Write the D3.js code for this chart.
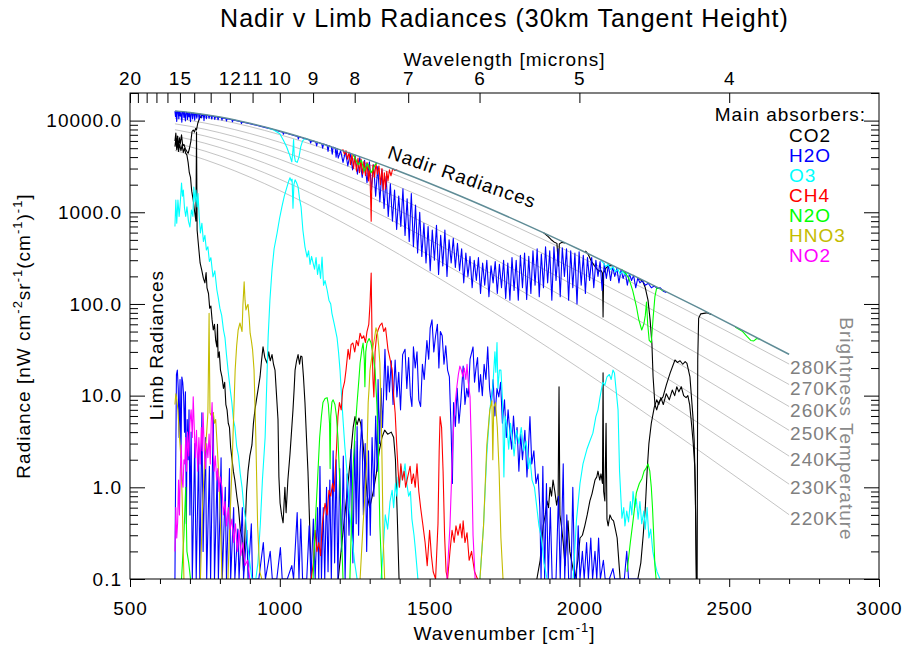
<!DOCTYPE html>
<html lang="en">
<head>
<meta charset="utf-8">
<title>Nadir v Limb Radiances (30km Tangent Height)</title>
<script src="https://d3js.org/d3.v7.min.js"></script>
<style>
  body { margin: 0; background: #fff; }
  svg text { font-family: "Liberation Sans", Arial, Helvetica, sans-serif; letter-spacing: 1px; }
</style>
</head>
<body>
<div id="chart"></div>
<script>
// ---------- data ----------
// brightness temperature curves, sampled at these wavenumbers [cm-1]
var btWavenumbers = [650, 700, 800, 900, 1000, 1200, 1400, 1600, 1800, 2000, 2200, 2400, 2700];
var btLabels = ["280K", "270K", "260K", "250K", "240K", "230K", "220K"];
var bt280 = [12017, 11511, 10163, 8599, 7028, 4329, 2456, 1312, 668.3, 328.0, 156.2, 72.6, 22.1];
var bt270 = [10572, 10040, 8708, 7234, 5804, 3443, 1882, 967.2, 474.3, 224.1, 102.7, 45.95, 13.22];
var bt260 = [9216, 8670, 7375, 6007, 4724, 2692, 1412, 696.6, 327.9, 148.7, 65.44, 28.09, 7.604];
var bt250 = [7951, 7404, 6166, 4915, 3783, 2063, 1036, 488.9, 220.2, 95.52, 40.22, 16.51, 4.183];
var bt240 = [6780, 6242, 5081, 3957, 2975, 1547, 740.2, 333.1, 143.0, 59.13, 23.73, 9.288, 2.189];
var bt230 = [5705, 5187, 4118, 3127, 2291, 1131, 513.9, 219.5, 89.43, 35.11, 13.37, 4.969, 1.083];
var bt220 = [4729, 4241, 3276, 2419, 1723, 804.1, 345.1, 139.3, 53.61, 19.88, 7.154, 2.511, 0.5026];
// nadir radiance where nothing absorbs (top envelope)
var nadirTop = [12767, 12283, 10938, 9333, 7696, 4825, 2787, 1515, 785.8, 392.7, 190.4, 90.07, 28.20];

// nadir spectra [wavenumber, radiance]; null = gap
var nadirCO2 = [[650,6000],[653,7300],[656,5400],[659,6800],[662,5000],[665,6500],[668,5600],[672,7000],[676,5300],[680,5500],[685,4900],[690,4600],[694,4400],[698,4900],[703,5900],[707,7600],[711,7900],[715,7500],[719,8200],[722,7900],[726,9300],[732,10600],[740,11400],[750,11500],
  null,[1880,600],[1895,545],[1905,505],[1915,475],[1925,458],[1930,260],[1933,452],[1942,470],[1952,462],
  null,[2020,380],[2030,345],[2040,292],[2050,262],[2058,242],[2065,228],[2072,232],[2077,218],[2079,72],[2081,218],[2088,245],[2098,262],[2110,262],
  null,[2200,188],[2212,175],[2220,150],[2229,110],[2236,67],[2242,37],[2246,16],[2252,8],[2258,7],[2265,8.5],[2279,9.7],[2290,13],[2303,17.7],[2319,24.5],[2327,23],[2336,24],[2345,22],[2353,23.5],[2359,22.5],[2369,16],[2379,5.9],[2383,3.3],[2387,1],[2390,0.1],[2393,0.1],[2395,25],[2398,70],[2405,78],[2425,80],[2440,77]];
var nadirH2O = [[650,12640],[652,11000],[654,12600],[656,9800],[658,12570],[661,12540],[663,10500],[665,12490],[668,11200],[670,12440],[673,9600],[675,12400],[678,12370],[680,10800],[682,12330],[685,9900],[687,12280],[690,12250],[692,10300],[694,12220],[697,11000],[699,12170],[702,9700],[704,12110],[707,12070],[709,10400],[711,12030],[714,11990],[716,10100],[718,11950],[721,11900],[723,10600],[725,11850],[729,11800],[731,10200],[733,11760],[737,11700],[739,10700],[741,11650],[745,11600],[747,10000],[749,11560],[753,11490],[755,10500],[757,11450],[762,11360],[764,10600],[766,11330],[771,11240],[773,10400],[775,11180],[781,11100],[783,10300],[785,11040],[792,10940],[794,10200],[796,10880],[805,10750],[807,10100],[809,10700],[820,10520],[822,9900],[824,10490],[840,10210],[842,9700],[844,10180],[870,9730],[872,9300],[874,9690],[900,9240],[925,8850],[950,8430],[975,8030],[1000,7620],[1010,7470],[1012,7100],[1014,7420],[1050,6850],[1060,6700],[1062,6300],[1064,6650],[1090,6270],[1100,6120],[1103,5700],[1106,6050],[1120,5860],[1123,5300],[1126,5800],[1140,5600],[1143,5000],[1146,5550],[1158,5380],[1161,4600],[1164,5330],[1172,5200],[1175,4300],[1178,5130],[1185,5030],[1188,4000],[1191,4960],
  [1195,3900],[1203,4700],[1211,3500],[1219,4600],[1227,3200],[1235,4400],[1243,2900],[1251,4200],[1259,2600],[1267,3950],[1275,2400],[1283,3700],[1291,2100],[1299,3550],[1306,1750],[1313,3300],[1320,1500],[1327,3150],[1334,1300],[1341,2900],[1348,1100],[1355,2450],[1362,900],[1369,2050],[1376,800],[1383,1750],
  [1390,650],[1397,1500],[1404,700],[1411,1800],[1418,560],[1425,1400],[1432,480],[1439,1600],[1446,420],[1453,1200],[1460,360],[1467,1000],[1474,330],[1481,760],[1488,280],[1495,700],[1502,230],[1509,640],[1516,300],[1523,720],[1530,210],[1537,560],[1544,260],[1551,640],[1558,200],[1565,500],[1572,280],[1579,520],[1586,250],[1593,460],[1600,230],[1607,400],[1614,170],[1621,360],[1628,200],[1635,330],[1642,150],[1649,300],[1656,180],[1663,320],[1670,130],[1677,280],[1684,160],[1691,300],[1698,120],[1705,260],[1712,170],[1719,290],[1726,130],[1733,270],[1740,150],[1747,300],[1754,115],[1761,280],[1768,110],[1775,320],[1782,140],[1789,300],[1796,110],[1803,340],[1810,150],[1817,360],[1824,112],[1831,330],[1838,130],[1845,380],[1852,160],[1859,400],[1866,120],[1873,350],[1880,150],[1887,420],[1894,170],[1901,380],[1908,110],[1915,420],[1922,180],[1929,400],[1936,120],[1943,410],[1950,200],[1957,400],[1964,110],[1971,380],[1978,150],[1985,360],[1992,100],[1999,370],[2006,160],[2013,340],[2020,130],[2027,320],[2034,180],[2041,320],[2048,150],[2055,300],[2062,200],[2069,290],[2076,140],[2083,275],[2090,190],[2097,270],[2104,180],[2111,255],[2118,200],[2125,245],[2132,170],[2139,235],[2146,190],[2153,225],[2160,160],[2167,215],[2174,180],[2181,205],[2188,150],[2195,192],[2202,170],[2210,180],[2220,160],[2230,168],[2240,150],[2250,157],[2260,148],[2270,150],[2280,138],[2290,133]];
var nadirO3 = [[960,8300],[980,7900],[1000,7200],[1012,6100],[1023,5150],[1033,4200],[1040,3550],[1044,4800],[1046,6200],[1048,4200],[1052,3600],[1058,3500],[1064,4000],[1070,5200],[1076,6000],[1085,6400],[1100,6150],
  null,[2070,305],[2080,280],[2088,255],[2096,272],[2104,238],[2112,255],[2120,225],[2128,240],[2136,212],[2144,228],[2152,210],[2162,218],[2172,205]];
var nadirCH4 = [[1210,4870],[1216,4300],[1221,4700],[1226,3800],[1231,4500],[1236,3300],[1241,4300],[1246,3000],[1251,4100],[1256,2800],[1261,3900],[1266,2700],[1271,3800],[1276,2600],[1281,3600],[1286,2500],[1291,3500],[1296,2200],[1300,3300],[1303,1500],[1305,800],[1307,2000],[1311,3300],[1316,2400],[1321,3400],[1326,2600],[1331,3200],[1336,2000],[1341,3000],[1345,1750],[1349,2700],[1353,1800],[1357,2800],[1361,2200],[1366,2900],[1371,2500],[1377,3000],[1384,2850],[1392,2900]];
var nadirN2O = [[1244,4300],[1262,3300],[1272,3700],[1282,2800],[1292,3400],[1305,2700],[1318,3300],[1325,3450],
  null,[2140,240],[2155,215],[2165,190],[2178,140],[2190,95],[2198,68],[2208,52],[2215,60],[2220,75],[2224,105],[2228,60],[2233,40],[2240,38],[2246,70],[2252,120],[2258,150],[2266,148],[2280,138],
  null,[2520,56],[2545,50],[2560,44],[2572,40],[2582,39.5],[2592,42],[2605,41]];

// limb spectra at 30km tangent height
var limbCO2 = [[650,5200],[653,6300],[656,4800],[659,5900],[662,4600],[666,5500],[670,4700],[674,5400],[678,4500],[682,5000],[686,4400],[690,4200],[694,3500],[698,2700],[702,2400],[706,1700],[711,1360],[716,1000],[720,800],[722,7500],[724,640],[729,420],[734,280],[740,230],[745,190],[750,170],[754,220],[757,150],[762,130],[766,90],[770,95],[774,67],[778,52],[782,60],[786,40],[790,34],[792,60],[794,26],[798,30],[802,19],[807,16],[812,12],[816,14],[820,8],[824,7],[828,5],[832,4.5],[836,2.7],[840,2.1],[845,1.5],[850,1.2],[857,0.78],[862,0.6],[868,0.35],[874,0.28],[879,0.12],[884,0.34],[889,0.9],[894,1.5],[900,2.2],[907,2.9],[912,5],[917,7],[922,9],[928,12],[934,16],[939,24],[944,34],[950,26],[957,22.7],[963,30],[968,24],[974,28],[979,22],[984,19],[990,9],[994,5.5],[997,1.3],[1001,0.67],[1006,0.5],[1011,0.41],[1017,1.0],[1021,0.53],[1027,1.2],[1034,2.3],[1039,4],[1044,7],[1048,12],[1051,19],[1056,24],[1061,28],[1066,22],[1070,27],[1074,26.6],[1079,16],[1084,8.4],[1089,3.5],[1094,1.5],[1101,0.28],[1106,0.1],
  null,[1195,0.1],[1210,0.3],[1225,0.9],[1238,2.5],[1245,4.5],[1251,5.9],[1258,4.8],[1264,5.7],[1270,5],[1278,3],[1286,1.4],[1292,0.8],[1300,0.6],[1312,0.9],[1322,1.4],[1332,2.5],[1341,3.5],[1350,4.2],[1360,3.8],[1372,4.0],[1380,3.5],[1386,2],[1392,0.5],[1398,0.1],
  null,[1858,0.1],[1869,0.16],[1879,0.38],[1886,0.5],[1892,0.71],[1897,0.6],[1902,1.0],[1907,0.8],[1912,1.2],[1918,0.9],[1924,0.64],[1929,0.8],[1932,12.5],[1935,0.5],[1940,0.38],[1946,0.25],[1952,0.14],[1958,0.3],[1962,0.43],[1968,0.2],[1975,0.15],[1985,0.1],[1995,0.16],[2002,0.28],[2010,0.3],[2018,0.38],[2026,0.5],[2035,0.71],[2042,0.85],[2052,1.2],[2058,1.3],[2062,1.5],[2068,1.2],[2072,1.4],[2077,1.1],[2079,17.7],[2081,0.9],[2085,0.71],[2089,5],[2092,0.45],[2096,0.38],[2102,0.5],[2108,0.45],[2114,0.43],[2120,0.35],[2126,0.28],[2132,0.15],[2136,0.1],
  null,[2195,0.1],[2205,0.15],[2213,0.3],[2220,0.6],[2226,1.5],[2232,3.0],[2240,5],[2250,7.5],[2258,9],[2265,8],[2272,9.5],[2280,8],[2290,10.5],[2300,9],[2310,11.5],[2318,10],[2325,12.5],[2332,11],[2340,12.5],[2348,10],[2356,9.5],[2362,10],[2368,8],[2374,5],[2380,3],[2385,1.7],[2388,0.5],[2391,0.1]];
var limbH2O = [[650,0.1],[652,1.0],[655,17],[658,19],[661,12],[664,3.5],[667,15],[670,2.1],[673,16],[676,14],[679,10],[682,4],[685,11],[688,0.4],[691,5.5],[694,2],[697,7],
  [700,0.5],[704,4],[708,0.1],[716,3],[721,0.1],[729,2.5],[733,0.1],[740,6.5],[744,0.2],[752,3.5],[756,0.1],[765,1.7],[769,0.1],[778,6.5],[782,0.1],[791,1.5],[795,0.1],[804,2.1],[808,0.1],[818,1.0],[822,0.1],[832,1.6],[836,0.1],[846,0.6],[850,0.1],[860,0.35],[864,0.1],[875,0.6],[879,0.1],[890,0.34],[894,0.1],[905,0.4],[909,0.1],
  [930,0.1],[945,0.25],[952,0.1],[968,0.2],[975,0.1],[990,0.1],[1002,0.22],[1008,0.1],[1025,0.1],[1040,0.14],[1046,0.1],[1058,0.53],[1064,0.1],[1070,0.45],[1076,0.1],[1090,0.1],[1098,0.38],[1104,0.1],[1112,0.45],[1118,0.1],[1126,0.6],[1130,0.1],[1134,1.7],[1139,0.1],[1145,0.6],[1150,0.1],[1156,1.0],[1161,0.12],[1167,1.2],[1172,0.1],[1178,2.5],[1183,0.15],[1188,2.0],[1194,0.1],[1200,1.6],[1206,0.2],[1212,2.2],[1218,0.1],[1225,1.4],[1231,0.3],[1238,2.6],[1244,0.15],[1250,3.2],[1255,0.4],[1258,4.6],[1263,0.3],[1268,2.4],[1274,5.5],[1279,0.5],[1285,3.0],[1290,0.2],[1296,2.5],[1302,0.3],[1308,3.5],[1314,0.8],[1320,6],[1325,1.5],[1328,15],[1333,3],[1338,12],[1343,4.5],[1351,32],[1356,9],[1361,21],[1366,11],[1372,24],[1378,8],[1385,24.5],[1391,9.7],[1397,18],[1403,7],[1410,28],[1418,32],[1424,12],[1430,26],[1436,10],[1441,7.6],[1446,34],[1452,20],[1458,30],[1464,9],[1470,7.6],[1476,22],[1482,15],[1491,40],[1497,25],[1502,55],[1508,67],[1514,30],[1520,45],[1526,60],[1531,20],[1536,50],[1542,45],[1548,22],[1554,35],[1560,19],[1566,16],[1572,4],[1576,1.1],[1580,8.4],[1586,4.6],[1592,12],[1598,5],[1604,8.4],[1612,21],[1618,8],[1624,12],[1629,9.7],[1635,25],[1645,34],[1650,14],[1655,20],[1660,26],[1665,11],[1670,17],[1676,10],[1682,22],[1688,15],[1694,34],[1700,12],[1706,8],[1712,15],[1718,6],[1725,12],[1731,9.7],[1737,14],[1743,5],[1750,9],[1756,3.5],[1762,7],[1768,4],[1774,2.6],[1780,6],[1786,3],[1792,4.5],[1798,1.5],[1804,3.8],[1810,2],[1818,4.2],[1825,1.3],[1835,5.9],[1841,1.8],[1848,2.5],[1855,1.1],[1862,1.4],[1868,0.6],[1872,0.1],[1878,1.7],[1884,0.1],[1890,1.1],[1896,0.1],[1903,0.6],[1909,0.1],[1922,0.1],[1930,0.8],[1936,0.1],[1942,0.5],[1946,1.8],[1951,0.1],[1958,0.5],[1964,0.1],[1972,0.1],[1978,1.0],[1984,0.1],[1990,0.1],[1996,0.38],[2002,0.1],[2010,0.2],[2016,0.1],[2024,0.25],[2030,0.1],[2038,0.28],[2044,0.1],[2052,0.2],[2058,0.1],[2064,0.28],[2070,0.1],[2080,0.16],[2086,0.1],[2100,0.1],[2112,0.13],[2118,0.1],[2150,0.1],[2158,0.2],[2164,0.1],[2200,0.1]];
var limbO3 = [[650,700],[653,1360],[656,760],[660,1360],[664,900],[668,1300],[672,2085],[675,1500],[678,1750],[682,1100],[686,900],[690,1150],[695,800],[700,690],[705,1060],[710,900],[713,1890],[717,1300],[720,1750],[724,1143],[727,1600],[731,900],[735,594],[740,760],[745,480],[750,560],[755,388],[760,420],[765,290],[770,320],[777,197],[783,230],[790,142],[794,120],[800,90],[806,75],[812,52],[817,43],[822,28],[828,18],[834,12],[840,8.4],[845,5.5],[850,4.6],[856,2.8],[862,2.2],[868,1.4],[874,1.0],[880,0.6],[886,0.45],[892,0.25],[900,0.15],[907,0.1],
  [920,0.1],[927,0.15],[935,0.4],[942,1.2],[951,3.5],[956,12],[961,43],[967,110],[974,236],[981,400],[991,594],[999,850],[1007,1143],[1015,1500],[1024,1890],[1030,2200],[1034,2380],[1038,2200],[1041,2300],[1044,1110],[1047,2000],[1051,2260],[1056,2100],[1061,1890],[1066,1400],[1071,1143],[1077,640],[1084,420],[1091,325],[1096,380],[1101,270],[1106,330],[1111,280],[1116,240],[1121,320],[1126,210],[1131,270],[1136,190],[1141,325],[1146,160],[1151,180],[1158,142],[1164,110],[1170,100],[1174,79],[1182,60],[1191,43],[1196,30],[1201,19],[1206,10],[1211,5.5],[1217,2.8],[1224,1.5],[1232,0.6],[1241,0.28],[1250,0.15],[1258,0.1],
  null,[1338,0.1],[1345,0.2],[1352,0.5],[1360,0.35],[1368,0.7],[1375,0.93],[1380,0.6],[1386,1.1],[1391,0.8],[1395,1.3],[1400,1.0],[1405,1.7],[1410,1.2],[1418,1.8],[1424,1.1],[1430,0.8],[1436,0.9],[1441,0.45],[1448,0.3],[1452,0.22],[1461,0.1],
  null,[1668,0.1],[1680,0.38],[1691,2.3],[1701,7.0],[1711,12.5],[1718,30],[1721,18],[1725,38],[1728,12],[1733,19],[1738,19],[1743,9.7],[1748,1.3],[1752,6],[1758,4.6],[1764,2.6],[1770,5],[1776,3.5],[1782,2.2],[1790,4.2],[1798,3],[1806,4.5],[1814,2.5],[1822,3.2],[1830,1.6],[1835,2.1],[1842,1.2],[1850,1.0],[1858,0.6],[1865,0.38],[1873,0.28],[1882,0.15],[1892,0.1],
  null,[1979,0.1],[1990,0.43],[2002,1.1],[2012,1.8],[2025,2.6],[2035,3.2],[2045,3.9],[2055,5.9],[2062,7],[2069,9.7],[2078,14],[2085,13],[2092,16],[2100,17],[2106,15],[2112,19],[2117,17.7],[2122,12],[2129,7],[2134,1.5],[2142,0.46],[2148,0.6],[2152,0.38],[2158,0.55],[2164,0.42],[2170,0.7],[2175,0.5],[2179,0.9],[2185,0.6],[2190,0.75],[2196,0.45],[2202,0.7],[2208,0.4],[2215,0.55],[2220,0.35],[2226,0.6],[2232,0.28],[2238,0.35],[2245,0.2],[2252,0.15],[2259,0.12],[2269,0.1]];
var limbCH4 = [[1105,0.1],[1112,0.15],[1118,0.34],[1124,0.2],[1130,0.25],[1136,0.18],[1142,0.4],[1151,0.67],[1158,0.5],[1164,0.93],[1170,0.8],[1176,1.1],[1181,0.9],[1185,1.5],[1189,2.5],[1194,5.9],[1199,8.4],[1205,7],[1210,11.6],[1216,14],[1221,19],[1228,32],[1233,25],[1238,36],[1244,37.5],[1250,30],[1256,40],[1262,35],[1268,48],[1274,42],[1280,45],[1286,38],[1291,50],[1297,60],[1301,99],[1305,218],[1308,40],[1311,15],[1314,9.7],[1318,30],[1323,45],[1328,52],[1334,58],[1341,62],[1347,50],[1353,55],[1361,32],[1368,25],[1375,19],[1380,10],[1385,6.5],[1390,3],[1395,1.5],[1399,1.0],[1404,1.8],[1409,1.2],[1415,1.5],[1420,1.0],[1427,1.3],[1435,1.7],[1440,1.1],[1446,1.4],[1452,1.0],[1458,1.8],[1464,0.9],[1470,0.6],[1478,0.38],[1485,0.25],[1492,0.14],[1500,0.34],[1506,0.18],[1512,0.12],[1520,0.1],[1528,0.4],[1532,2.5],[1535,5.9],[1540,4.5],[1545,1.5],[1550,0.3],[1555,0.12],[1560,0.1],[1568,0.2],[1575,0.34],[1582,0.25],[1588,0.38],[1595,0.3],[1602,0.4],[1608,0.28],[1612,0.43],[1618,0.25],[1625,0.32],[1632,0.16],[1640,0.2],[1650,0.12],[1660,0.1]];
var limbN2O = [[672,0.1],[680,0.3],[686,1.0],[690,0.2],[696,0.15],[702,0.1],
  null,[1111,0.1],[1118,0.38],[1126,1.2],[1133,3.5],[1139,6],[1144,8.4],[1151,9.3],[1158,9.5],[1162,8],[1166,5],[1168,1.6],[1170,6],[1174,8.5],[1178,9],[1184,8],[1189,6],[1194,3.5],[1200,1.2],[1205,0.38],[1211,0.1],
  null,[1234,0.1],[1244,1.5],[1251,4],[1258,8.4],[1264,15],[1268,22.7],[1274,32],[1278,37.5],[1282,25],[1284,12.5],[1287,30],[1291,37.5],[1298,42],[1304,38],[1310,30],[1318,19],[1324,8],[1328,3.5],[1334,0.38],[1341,0.1],
  null,[2159,0.12],[2170,0.25],[2179,0.43],[2190,0.87],[2200,1.1],[2209,1.25],[2216,1.5],[2222,1.6],[2229,1.8],[2235,1.5],[2240,1.0],[2244,0.6],[2248,0.3],[2252,0.14],[2256,0.1]];
var limbHNO3 = [[650,8],[653,10.5],[656,9],[660,7],[664,4],[670,2.1],[674,0.8],[677,0.28],[680,0.1],
  null,[735,0.1],[742,0.6],[750,2.3],[756,4],[760,6.5],[763,40],[764,79],[765,30],[767,6.5],[772,6],[778,6.5],[782,5],[786,5.5],[792,2.5],[798,1],[803,0.3],[807,0.1],
  null,[827,0.1],[833,0.4],[840,1.5],[846,6],[851,19],[856,35],[861,52],[867,62],[871,55],[874,50],[877,99],[881,174],[884,110],[887,86],[891,95],[894,99],[898,70],[901,48],[905,40],[909,32],[914,19],[920,3.5],[926,0.38],[933,0.12],[940,0.1],
  null,[1268,0.1],[1278,0.4],[1286,1.0],[1291,2.3],[1295,8.4],[1298,12],[1301,19],[1306,25],[1311,34],[1316,42],[1321,55],[1326,48],[1330,35],[1334,22.7],[1340,3.5],[1345,0.28],[1350,0.1],
  null,[1668,0.1],[1680,0.38],[1691,2.9],[1701,7],[1708,8.8],[1711,2.0],[1714,7.5],[1720,8.4],[1726,4.5],[1732,1.5],[1738,0.28],[1745,0.1]];
var limbNO2 = [[650,0.2],[653,0.6],[656,0.28],[659,0.41],[662,1.2],[665,0.5],[668,1.5],[671,2.9],[674,1.2],[677,1.0],[680,2.0],[683,1.8],[686,3.5],[689,1.5],[692,4],[696,2.2],[700,5],[704,7],[708,3.5],[711,9.7],[715,4],[718,2.1],[722,4.2],[726,1.5],[730,3.5],[734,1.8],[738,4.5],[741,2.5],[744,6.5],[748,2.5],[752,1.6],[756,3.0],[760,2.1],[764,3.8],[768,1.8],[771,5],[774,8.4],[778,2.5],[781,1.5],[785,2.2],[789,1.2],[793,1.6],[797,0.9],[801,1.3],[807,1.0],[812,0.5],[817,0.7],[822,0.38],[828,0.6],[834,0.35],[840,0.45],[846,0.25],[852,0.4],[858,0.2],[864,0.34],[870,0.18],[877,0.25],[884,0.14],[892,0.16],[900,0.1],
  null,[1558,0.1],[1568,0.38],[1578,3.5],[1585,8],[1591,12.5],[1596,17],[1601,21],[1606,19],[1611,16],[1616,20],[1621,15],[1625,22],[1629,14],[1635,9.7],[1640,2.3],[1645,0.3],[1652,0.1]];

// legend / species
var species = ["CO2", "H2O", "O3", "CH4", "N2O", "HNO3", "NO2"];
var speciesColors = ["#000000", "#0000ff", "#00ffff", "#ff0000", "#00ff00", "#c4bc00", "#ff00ff"];

// axis ticks
var wnMajor = [500, 1000, 1500, 2000, 2500, 3000];
var wlMajor = [20, 15, 12, 11, 10, 9, 8, 7, 6, 5, 4];
var wlMinor = [19, 18, 17, 16, 14, 13];
var radMajor = [0.1, 1, 10, 100, 1000, 10000];

// ---------- chart ----------
var w = 903, h = 648;
var pl = 130, pr = 879, pt = 93, pb = 579;

var svg = d3.select("#chart").append("svg")
    .attr("width", w).attr("height", h)
    .attr("viewBox", `0 0 ${w} ${h}`);

var x = d3.scaleLinear().domain([500, 3000]).range([pl, pr]);
var y = d3.scaleLog().domain([0.1, 20000]).range([pb, pt]);

svg.append("clipPath").attr("id", "plotclip")
    .append("rect").attr("x", pl).attr("y", pt)
    .attr("width", pr - pl).attr("height", pb - pt);

var plot = svg.append("g").attr("clip-path", "url(#plotclip)");

var smooth = d3.line()
    .curve(d3.curveMonotoneX)
    .x((d, i) => x(btWavenumbers[i]))
    .y(d => y(d));

var spectrum = d3.line()
    .defined(d => d !== null)
    .x(d => x(d[0]))
    .y(d => y(Math.max(d[1], 0.1)));

// brightness temperature curves
var btCurves = [bt280, bt270, bt260, bt250, bt240, bt230, bt220];
plot.selectAll("path.bt")
    .data(btCurves)
    .join("path")
    .attr("class", "bt")
    .attr("d", smooth)
    .attr("fill", "none")
    .attr("stroke", "#c4c4c4")
    .attr("stroke-width", 1);

// limb spectra
var limb = [limbCO2, limbH2O, limbO3, limbCH4, limbN2O, limbHNO3, limbNO2];
plot.selectAll("path.limb")
    .data(limb)
    .join("path")
    .attr("class", "limb")
    .attr("d", spectrum)
    .attr("fill", "none")
    .attr("stroke", (d, i) => speciesColors[i])
    .attr("stroke-width", 1.1)
    .attr("stroke-linejoin", "round");

// nadir spectra
var nadir = [[nadirCO2, 0], [nadirH2O, 1], [nadirO3, 2], [nadirCH4, 3], [nadirN2O, 4]];
plot.selectAll("path.nadir")
    .data(nadir)
    .join("path")
    .attr("class", "nadir")
    .attr("d", d => spectrum(d[0]))
    .attr("fill", "none")
    .attr("stroke", d => speciesColors[d[1]])
    .attr("stroke-width", 1.1)
    .attr("stroke-linejoin", "round");

plot.append("path")
    .attr("d", smooth(nadirTop))
    .attr("fill", "none")
    .attr("stroke", "#5f8c96")
    .attr("stroke-width", 1.5);

// temperature labels at the end of each curve
svg.selectAll("text.btlabel")
    .data(btCurves)
    .join("text")
    .attr("class", "btlabel")
    .attr("x", x(2700) + 1)
    .attr("y", d => y(d[d.length - 1]) + 10)
    .attr("font-size", 19)
    .attr("fill", "#808080")
    .text((d, i) => btLabels[i]);

svg.append("text")
    .attr("transform", "translate(840,429) rotate(90)")
    .attr("text-anchor", "middle")
    .attr("font-size", 19)
    .attr("fill", "#8a8a8a")
    .text("Brightness Temperature");

// axes
function styleAxis(g) {
    g.select(".domain").remove();
    g.attr("font-size", 19);
}
svg.append("g")
    .attr("transform", `translate(${pl},0)`)
    .call(d3.axisLeft(y).tickValues(radMajor).tickSize(-15).tickPadding(8).tickFormat(d3.format(".1f")))
    .call(styleAxis);
var radMinor = [];
radMajor.forEach(function (m) {
    for (var k = 2; k <= 9; k++) if (m * k <= 20000) radMinor.push(m * k);
});
svg.append("g")
    .attr("transform", `translate(${pl},0)`)
    .call(d3.axisLeft(y).tickValues(radMinor).tickSize(-8).tickFormat(""))
    .call(styleAxis);
svg.append("g")
    .attr("transform", `translate(${pr},0)`)
    .call(d3.axisRight(y).tickValues(radMajor).tickSize(-15).tickFormat(""))
    .call(styleAxis);
svg.append("g")
    .attr("transform", `translate(${pr},0)`)
    .call(d3.axisRight(y).tickValues(radMinor).tickSize(-8).tickFormat(""))
    .call(styleAxis);

svg.append("g")
    .attr("transform", `translate(0,${pb})`)
    .call(d3.axisBottom(x).tickValues(wnMajor).tickSize(8).tickPadding(15).tickFormat(d3.format("d")))
    .call(styleAxis);
svg.append("g")
    .attr("transform", `translate(0,${pb})`)
    .call(d3.axisBottom(x).tickValues(d3.range(600, 3000, 100).filter(v => v % 500 != 0)).tickSize(5).tickFormat(""))
    .call(styleAxis);

svg.append("g")
    .attr("transform", `translate(0,${pt})`)
    .call(d3.axisTop(x).tickValues(wlMajor.map(l => 10000 / l)).tickSize(-10).tickPadding(8).tickFormat((d, i) => wlMajor[i]))
    .call(styleAxis);
svg.append("g")
    .attr("transform", `translate(0,${pt})`)
    .call(d3.axisTop(x).tickValues(wlMinor.map(l => 10000 / l)).tickSize(-10).tickFormat(""))
    .call(styleAxis);

svg.append("rect")
    .attr("x", pl).attr("y", pt)
    .attr("width", pr - pl).attr("height", pb - pt)
    .attr("fill", "none").attr("stroke", "#000").attr("stroke-width", 1);

// titles
svg.append("text")
    .attr("x", (pl + pr) / 2).attr("y", 27)
    .attr("text-anchor", "middle").attr("font-size", 25)
    .text("Nadir v Limb Radiances (30km Tangent Height)");

svg.append("text")
    .attr("x", (pl + pr) / 2).attr("y", 66)
    .attr("text-anchor", "middle").attr("font-size", 19)
    .text("Wavelength [microns]");

var xt = svg.append("text")
    .attr("x", (pl + pr) / 2).attr("y", 640)
    .attr("text-anchor", "middle").attr("font-size", 19);
xt.append("tspan").text("Wavenumber [cm");
xt.append("tspan").attr("font-size", 13).attr("dy", -8).text("-1");
xt.append("tspan").attr("dy", 8).text("]");

var yt = svg.append("text")
    .attr("transform", `translate(30,${(pt + pb) / 2}) rotate(-90)`)
    .attr("text-anchor", "middle").attr("font-size", 19);
yt.append("tspan").text("Radiance [nW cm");
yt.append("tspan").attr("font-size", 13).attr("dy", -8).text("-2");
yt.append("tspan").attr("dy", 8).text("sr");
yt.append("tspan").attr("font-size", 13).attr("dy", -8).text("-1");
yt.append("tspan").attr("dy", 8).text("(cm");
yt.append("tspan").attr("font-size", 13).attr("dy", -8).text("-1");
yt.append("tspan").attr("dy", 8).text(")");
yt.append("tspan").attr("font-size", 13).attr("dy", -8).text("-1");
yt.append("tspan").attr("dy", 8).text("]");

svg.append("text")
    .attr("transform", "translate(163,345) rotate(-90)")
    .attr("text-anchor", "middle").attr("font-size", 19)
    .text("Limb Radiances");

svg.append("text")
    .attr("transform", "translate(460,183) rotate(19)")
    .attr("text-anchor", "middle").attr("font-size", 19)
    .text("Nadir Radiances");

// legend
svg.append("text")
    .attr("x", 866).attr("y", 121)
    .attr("text-anchor", "end").attr("font-size", 19)
    .text("Main absorbers:");
svg.selectAll("text.legend")
    .data(species)
    .join("text")
    .attr("class", "legend")
    .attr("x", 789)
    .attr("y", (d, i) => 141.7 + i * 20)
    .attr("font-size", 19)
    .attr("fill", (d, i) => speciesColors[i])
    .text(d => d);
</script>
</body>
</html>
